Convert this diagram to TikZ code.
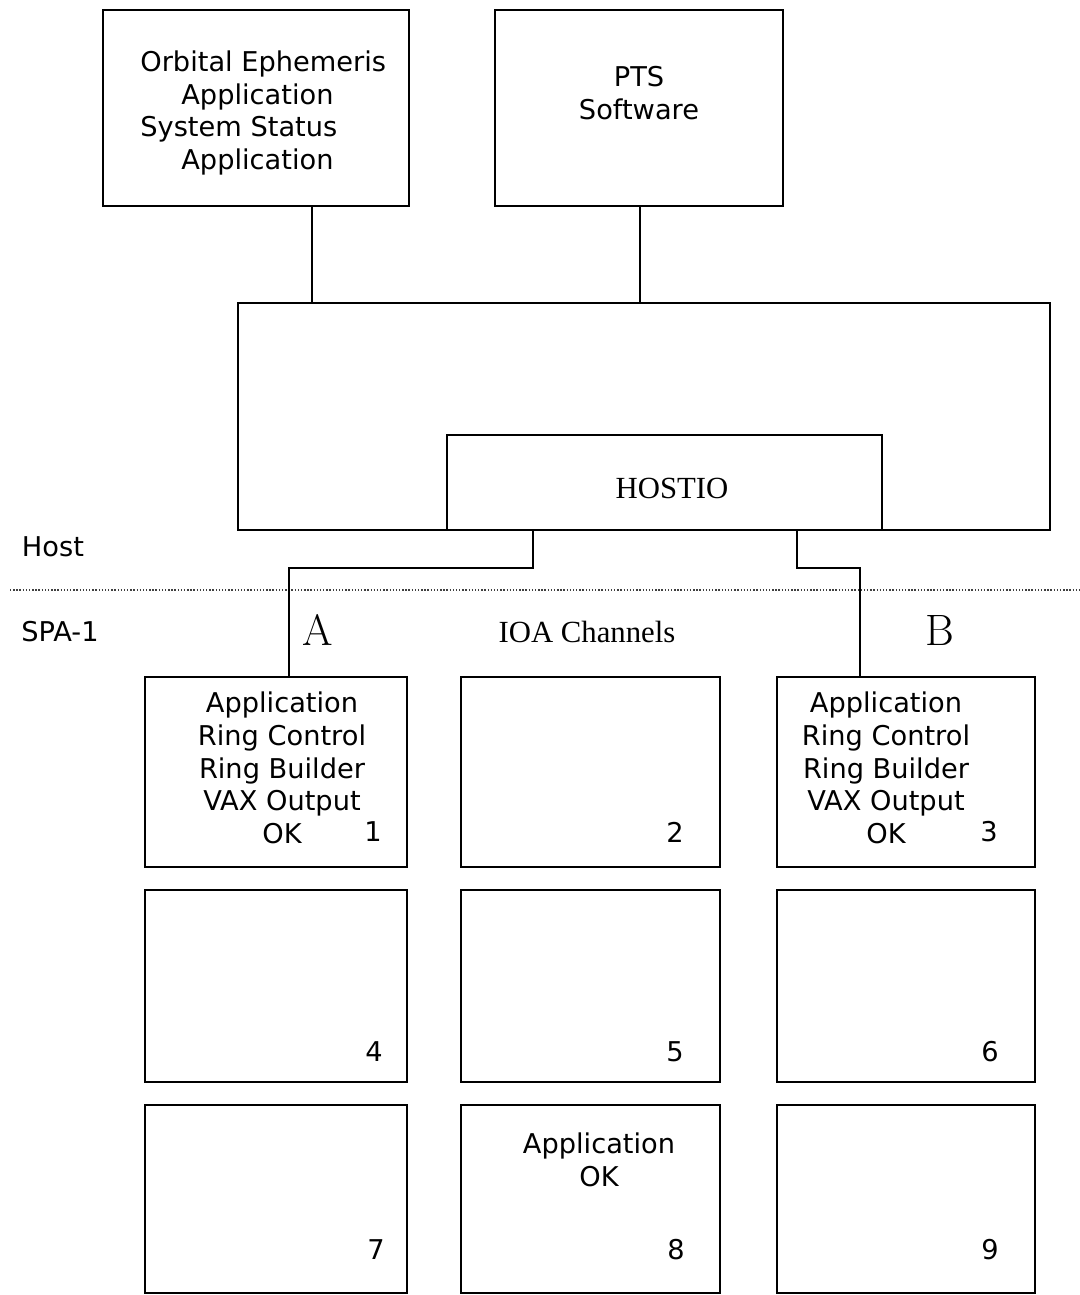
\documentclass[tikz,border=0pt]{standalone}
\usepackage{fontspec}
\newfontfamily\plotfont{DejaVu Sans}
\newfontfamily\serfont{Liberation Serif}
\usetikzlibrary{fit}
\begin{document}
\begin{tikzpicture}[x=0.02cm,y=-0.02cm,
  box/.style={draw, line width=0.9pt, inner sep=0pt},
  lab/.style={font=\plotfont\fontsize{15.5}{18.6}\selectfont, inner sep=0pt},
  ser/.style={font=\serfont\fontsize{17.5}{20}\selectfont, inner sep=0pt},
  bigletter/.style={font=\fontsize{25}{28}\selectfont, inner sep=0pt},
  conn/.style={line width=0.7pt},
  sep/.style={densely dotted, line width=0.8pt, black!75}]
\useasboundingbox (0,0) rectangle (1079,1295);
% top boxes
\node[box, fit={(103,10) (409,206)}] (orb) {};
\node[box, fit={(495,10) (783,206)}] (pts) {};
\node[lab, align=left, anchor=west] (orbt) at (140,113)
  {Orbital Ephemeris\\\hspace*{0.82cm}Application\\System Status\\\hspace*{0.82cm}Application};
\node[lab, align=center] (ptst) at (639,93) {PTS\\Software};
% host box
\node[box, fit={(238,303) (1050,530)}] (hostbox) {};
\node[box, fit={(447,435) (882,530)}] (hostio) {};
\node[ser] (hostiot) at (672,488) {HOSTIO};
\draw[conn] (orb.south -| 312,0) -- (hostbox.north -| 312,0);
\draw[conn] (pts.south -| 640,0) -- (hostbox.north -| 640,0);
% separator
\coordinate (sepL) at (10,590);
\coordinate (sepR) at (1079,590);
\draw[sep] (sepL) -- (sepR);
\node[lab] (host) at (53,547) {Host};
\node[lab] (spa) at (60,632) {SPA-1};
\node[bigletter] (la) at (318,630) {A};
\node[ser] (ioa) at (587,632) {IOA Channels};
\node[bigletter] (lb) at (940,630) {B};
% grid
\node[box, fit={(145,677) (407,867)}] (b1) {};
\node[box, fit={(461,677) (720,867)}] (b2) {};
\node[box, fit={(777,677) (1035,867)}] (b3) {};
\node[box, fit={(145,890) (407,1082)}] (b4) {};
\node[box, fit={(461,890) (720,1082)}] (b5) {};
\node[box, fit={(777,890) (1035,1082)}] (b6) {};
\node[box, fit={(145,1105) (407,1293)}] (b7) {};
\node[box, fit={(461,1105) (720,1293)}] (b8) {};
\node[box, fit={(777,1105) (1035,1293)}] (b9) {};
% connectors from HOSTIO
\draw[conn] (hostio.south -| 533,0) -- (533,568) -| (b1.north -| 289,0);
\draw[conn] (hostio.south -| 797,0) -- (797,568) -| (b3.north -| 860,0);
% box texts
\node[lab, align=center] (t1) at (282,768) {Application\\Ring Control\\Ring Builder\\VAX Output\\OK};
\node[lab, align=center] (t3) at (886,768) {Application\\Ring Control\\Ring Builder\\VAX Output\\OK};
\node[lab, align=center] (t8) at (599,1160) {Application\\OK};
\node[lab] (n1) at (373,832) {1};
\node[lab] (n2) at (675,832) {2};
\node[lab] (n3) at (989,832) {3};
\node[lab] (n4) at (374,1052) {4};
\node[lab] (n5) at (675,1052) {5};
\node[lab] (n6) at (990,1052) {6};
\node[lab] (n7) at (376,1250) {7};
\node[lab] (n8) at (676,1250) {8};
\node[lab] (n9) at (990,1250) {9};
\end{tikzpicture}
\end{document}
